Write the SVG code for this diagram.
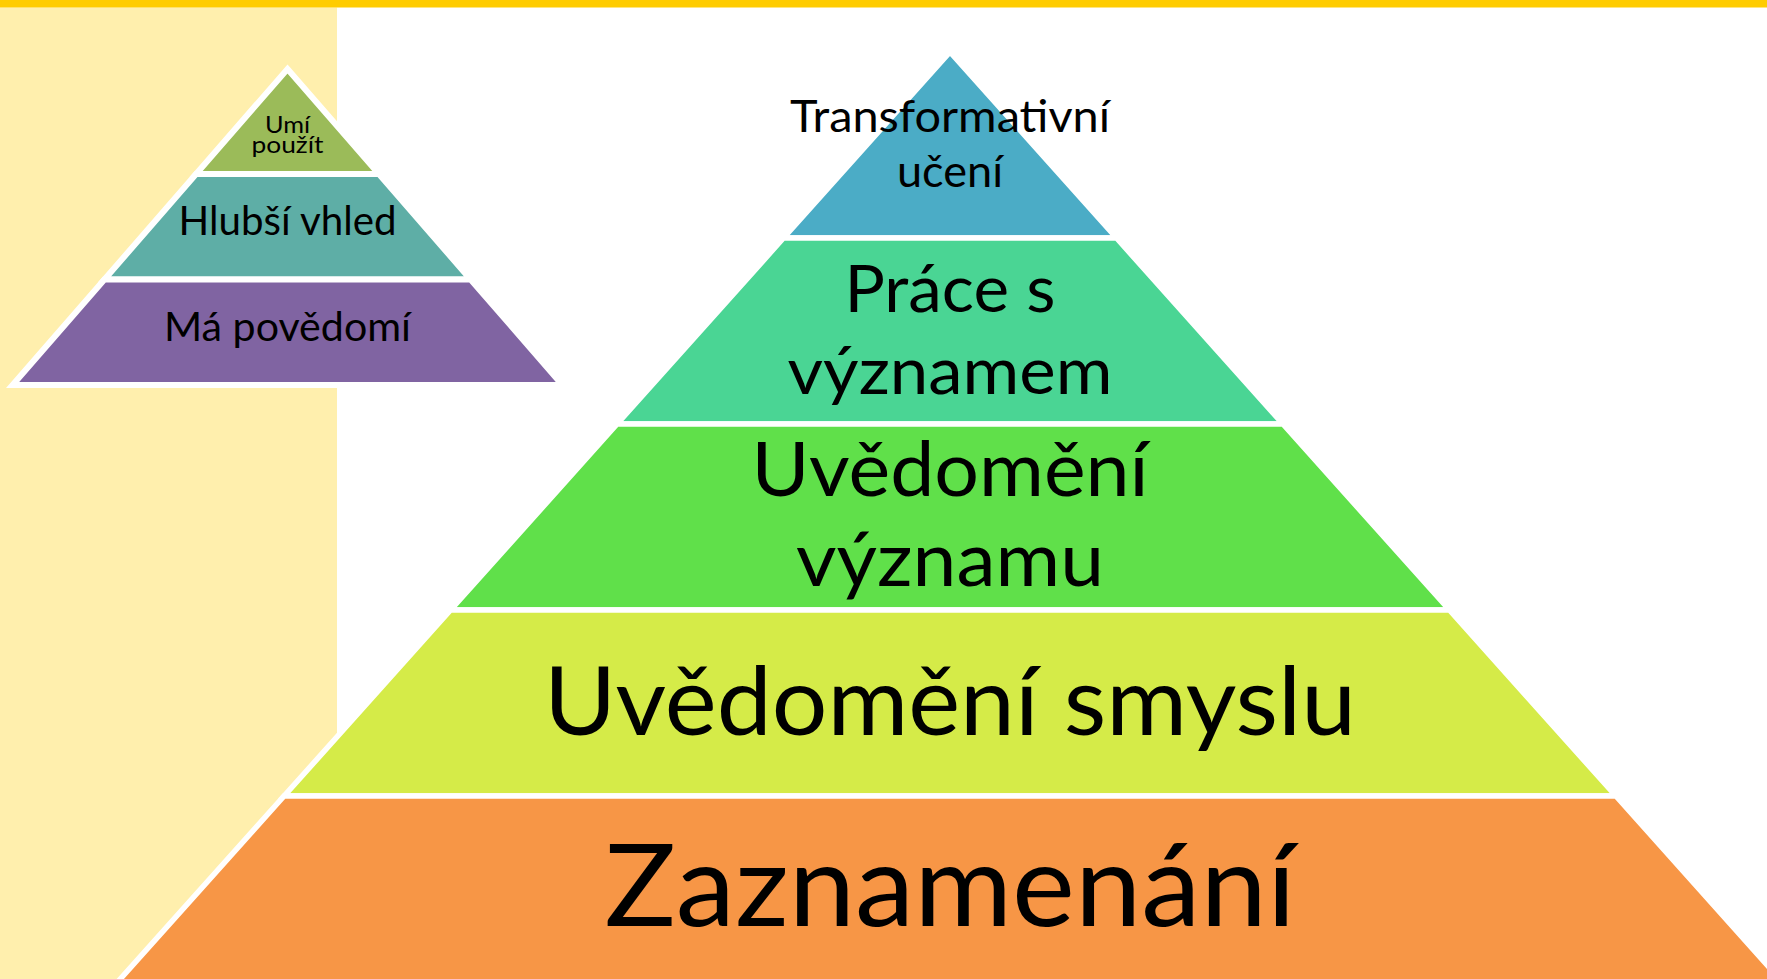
<svg xmlns="http://www.w3.org/2000/svg" width="1767" height="979" viewBox="0 0 1767 979">
  <style>
    .lyr { stroke: #FFFFFF; stroke-width: 5.5; stroke-linejoin: miter; }
    .sm { stroke: #FFFFFF; stroke-width: 6; stroke-linejoin: miter; }
    .t { font-family: Lato, "Open Sans", "Liberation Sans", sans-serif; fill: #000000; text-anchor: middle; }
  </style>
  <rect x="0" y="0" width="1767" height="979" fill="#FFFFFF"/>
  <rect x="0" y="7.5" width="337" height="971.5" fill="#FFEFAD"/>
  <rect x="0" y="0" width="1767" height="7.5" fill="#FFCC00"/>

  <g id="small-pyramid">
    <g id="umi-pouzit">
      <polygon class="sm" fill="#9BBB59" points="287.5,69 378.9,174 196.1,174"/>
      <text class="t" x="287.5" y="132.7" font-size="24" textLength="45" lengthAdjust="spacingAndGlyphs">Umí</text>
      <text class="t" x="287.5" y="153.3" font-size="24" textLength="72" lengthAdjust="spacingAndGlyphs">použít</text>
    </g>
    <g id="hlubsi-vhled">
      <polygon class="sm" fill="#5EAEA6" points="196.1,174 378.9,174 470.6,279.5 104.4,279.5"/>
      <text class="t" x="287.5" y="235" font-size="40" textLength="218" lengthAdjust="spacingAndGlyphs">Hlubší vhled</text>
    </g>
    <g id="ma-povedomi">
      <polygon class="sm" fill="#8064A2" points="104.4,279.5 470.6,279.5 562.4,385 12.6,385"/>
      <text class="t" x="287.5" y="341" font-size="40" textLength="247" lengthAdjust="spacingAndGlyphs">Má povědomí</text>
    </g>
  </g>

  <g id="big-pyramid">
    <g id="transformativni-uceni">
      <polygon class="lyr" fill="#4BACC6" points="950,52 1116.5,238 783.5,238"/>
      <text class="t" x="950" y="131.7" font-size="44" textLength="320" lengthAdjust="spacingAndGlyphs">Transformativní</text>
      <text class="t" x="950" y="186.7" font-size="44" textLength="106" lengthAdjust="spacingAndGlyphs">učení</text>
    </g>
    <g id="prace-s-vyznamem">
      <polygon class="lyr" fill="#4AD594" points="783.5,238 1116.5,238 1282.9,424 617.1,424"/>
      <text class="t" x="950" y="312" font-size="66" textLength="211" lengthAdjust="spacingAndGlyphs">Práce s</text>
      <text class="t" x="950" y="394" font-size="66" textLength="325" lengthAdjust="spacingAndGlyphs">významem</text>
    </g>
    <g id="uvedomeni-vyznamu">
      <polygon class="lyr" fill="#60E04A" points="617.1,424 1282.9,424 1449.4,610 450.6,610"/>
      <text class="t" x="950" y="496" font-size="76" textLength="397" lengthAdjust="spacingAndGlyphs">Uvědomění</text>
      <text class="t" x="950" y="586" font-size="76" textLength="308" lengthAdjust="spacingAndGlyphs">významu</text>
    </g>
    <g id="uvedomeni-smyslu">
      <polygon class="lyr" fill="#D5EB48" points="450.6,610 1449.4,610 1615.9,796 284.1,796"/>
      <text class="t" x="950" y="735" font-size="95" textLength="812" lengthAdjust="spacingAndGlyphs">Uvědomění smyslu</text>
    </g>
    <g id="zaznamenani">
      <polygon class="lyr" fill="#F79646" points="284.1,796 1615.9,796 1782.4,982 117.6,982"/>
      <text class="t" x="950" y="926" font-size="114" textLength="691" lengthAdjust="spacingAndGlyphs">Zaznamenání</text>
    </g>
  </g>
  <g id="connectors"/>
</svg>
